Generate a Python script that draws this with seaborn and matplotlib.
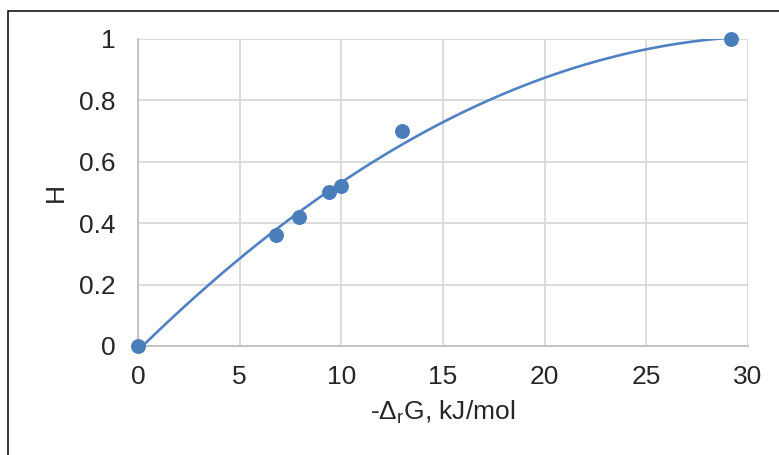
import matplotlib
matplotlib.use("Agg")
import matplotlib.pyplot as plt
import matplotlib.patches as patches
import seaborn as sns
import pandas as pd

# datos
delta_g = [0.0, 6.8, 7.9, 9.4, 10.0, 13.0, 29.15]
h_valores = [0.0, 0.36, 0.42, 0.50, 0.52, 0.70, 1.0]
x_ticks = [0, 5, 10, 15, 20, 25, 30]
y_ticks = [0, 0.2, 0.4, 0.6, 0.8, 1]
y_labels = ["0", "0.2", "0.4", "0.6", "0.8", "1"]

datos = pd.DataFrame({"dG": delta_g, "H": h_valores})

sns.set_style("white")
plt.rcParams["font.family"] = ["Liberation Sans", "DejaVu Sans"]
plt.rcParams["mathtext.fontset"] = "custom"
plt.rcParams["mathtext.rm"] = "Liberation Sans"
plt.rcParams["mathtext.it"] = "Liberation Sans"

azul = "#4a7ebb"
gris_texto = "#262626"

fig = plt.figure(figsize=(7.79, 4.55), dpi=100)
ax = fig.add_axes([0.1772, 0.2396, 0.9602 - 0.1772, 0.9143 - 0.2396])

sns.regplot(data=datos, x="dG", y="H", order=2, ci=None, ax=ax,
            color=azul,
            scatter_kws={"s": 95, "clip_on": False, "zorder": 4, "alpha": 1},
            line_kws={"lw": 1.9, "color": "#4f81c4", "zorder": 3})

ax.set_xlim(0, 30)
ax.set_ylim(0, 1)
ax.set_xticks(x_ticks)
ax.set_yticks(y_ticks)
ax.set_yticklabels(y_labels)
ax.grid(True, color="#d9d9d9", lw=1.3)
ax.set_axisbelow(True)
for lado in ["top", "right"]:
    ax.spines[lado].set_visible(False)
for lado in ["left", "bottom"]:
    ax.spines[lado].set_color("#bfbfbf")
    ax.spines[lado].set_linewidth(1.3)
ax.tick_params(axis="both", length=0, labelsize=19, colors=gris_texto)
ax.tick_params(axis="y", pad=16)
ax.tick_params(axis="x", pad=14)

ax.set_xlabel(r"-$\mathregular{\Delta_r}$G, kJ/mol", fontsize=19, color=gris_texto, labelpad=7)
ax.set_ylabel("H", fontsize=19, color=gris_texto, labelpad=8)

# marco negro del grafico
marco = patches.Rectangle((8 / 779, -0.2), 1.2, 1.2 - 11 / 455,
                          transform=fig.transFigure, fill=False,
                          edgecolor="black", lw=1.1)
fig.add_artist(marco)

fig.savefig("out.png", dpi=100)
